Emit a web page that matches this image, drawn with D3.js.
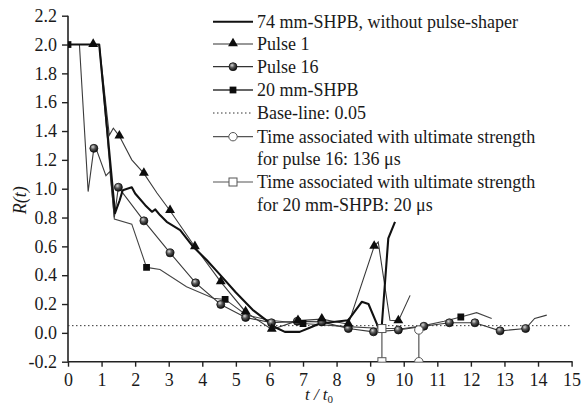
<!DOCTYPE html>
<html>
<head>
<meta charset="utf-8">
<script src="https://cdn.jsdelivr.net/npm/d3@7"></script>
<style>
  html, body { margin: 0; padding: 0; background: #ffffff; }
  svg { display: block; }
  svg text { font-family: "Liberation Serif", Tinos, "Times New Roman", Times, "Nimbus Roman", "DejaVu Serif", serif !important; fill: #1a1a1a; }
</style>
</head>
<body>
<svg id="chart" width="581" height="406"></svg>
<script>
// ---- data -------------------------------------------------------------
// R(t) against normalised time t/t0 for each test series, as [t/t0, R(t)]
const shpb74 = [
  [0, 2.0], [0.93, 2.0], [1.4, 0.83], [1.54, 0.92], [1.63, 0.99], [1.9, 1.01],
  [2.0, 0.967], [2.3, 0.886], [2.5, 0.84], [2.6, 0.856], [2.74, 0.817], [2.94, 0.77],
  [3.34, 0.713], [3.73, 0.597], [4.13, 0.505], [4.6, 0.385], [5.0, 0.28], [5.5, 0.16],
  [5.92, 0.085], [6.2, 0.035], [6.46, 0.007], [6.9, 0.007], [7.2, 0.035], [7.5, 0.065],
  [8.35, 0.088], [8.75, 0.215], [8.95, 0.2], [9.24, 0.04], [9.34, 0.03], [9.54, 0.655],
  [9.74, 0.77]
];
const pulse1 = [
  [0, 2.0], [0.75, 2.0], [0.93, 2.0], [1.23, 1.37], [1.35, 1.42], [1.53, 1.365],
  [1.9, 1.2], [2.26, 1.106], [2.65, 0.97], [3.04, 0.847], [3.78, 0.597], [4.55, 0.354],
  [5.29, 0.145], [6.07, 0.024], [6.85, 0.085], [7.56, 0.095], [8.35, 0.06], [9.12, 0.6],
  [9.24, 0.63], [9.59, 0.087], [9.84, 0.083], [10.19, 0.26]
];
const pulse1Marks = [0.75, 1.53, 2.26, 3.04, 3.78, 4.55, 5.29, 6.07, 6.85, 7.56, 8.35, 9.12, 9.84];

const pulse16 = [
  [0, 2.0], [0.34, 2.0], [0.6, 0.98], [0.77, 1.28], [0.85, 1.27], [1.13, 1.09],
  [1.25, 1.12], [1.38, 0.8], [1.5, 1.01], [2.26, 0.777], [3.04, 0.555], [3.8, 0.347],
  [4.55, 0.197], [5.29, 0.107], [6.06, 0.07], [6.83, 0.08], [7.56, 0.076], [8.35, 0.03],
  [9.1, 0.007], [9.84, 0.02], [10.6, 0.046], [11.36, 0.07], [12.12, 0.07], [12.87, 0.014],
  [13.63, 0.03], [13.9, 0.1], [14.26, 0.123]
];
const pulse16Marks = [0.77, 1.5, 2.26, 3.04, 3.8, 4.55, 5.29, 6.06, 6.83, 7.56, 8.35,
  9.1, 9.84, 10.6, 11.36, 12.12, 12.87, 13.63];

const shpb20 = [
  [0, 2.0], [0.93, 2.0], [1.38, 0.79], [1.9, 0.754], [2.34, 0.454], [2.74, 0.44],
  [3.53, 0.32], [4.33, 0.24], [4.68, 0.232], [5.32, 0.123], [6.0, 0.088], [7.0, 0.065],
  [8.2, 0.045], [9.35, 0.03], [10.0, 0.03], [10.6, 0.05], [11.2, 0.08], [11.7, 0.11],
  [12.17, 0.14], [12.62, 0.1]
];
const shpb20Marks = [0, 2.34, 4.68, 7.0, 9.35, 11.7];

const baseLine = 0.05;
// times of ultimate strength: [t/t0, R at the curve]
const ultimatePulse16 = [10.45, 0.02];
const ultimate20 = [9.35, 0.03];

const xTicks = [0, 1, 2, 3, 4, 5, 6, 7, 8, 9, 10, 11, 12, 13, 14, 15];
const yTicks = [-0.2, 0.0, 0.2, 0.4, 0.6, 0.8, 1.0, 1.2, 1.4, 1.6, 1.8, 2.0, 2.2];

const legendLabels = [
  ["74 mm-SHPB, without pulse-shaper"],
  ["Pulse 1"],
  ["Pulse 16"],
  ["20 mm-SHPB"],
  ["Base-line: 0.05"],
  ["Time associated with ultimate strength", "for pulse 16: 136 \u03bcs"],
  ["Time associated with ultimate strength", "for 20 mm-SHPB: 20 \u03bcs"]
];

// ---- layout -----------------------------------------------------------
const svg = d3.select("#chart");
const FONT = 18;
const SERIF = "'Liberation Serif', Tinos, 'Times New Roman', Times, 'Nimbus Roman', 'DejaVu Serif', serif";
const x = d3.scaleLinear().domain([0, 15]).range([68, 571.6]);
const y = d3.scaleLinear().domain([-0.2, 2.2]).range([361.7, 15.7]);

const defs = svg.append("defs");
defs.append("clipPath").attr("id", "plot-clip")
  .append("rect").attr("x", 68).attr("y", 0).attr("width", 513).attr("height", 361.7);
const grad = defs.append("radialGradient").attr("id", "ball")
  .attr("cx", "38%").attr("cy", "32%").attr("r", "70%");
grad.append("stop").attr("offset", "0%").attr("stop-color", "#d8d8d8");
grad.append("stop").attr("offset", "45%").attr("stop-color", "#555");
grad.append("stop").attr("offset", "100%").attr("stop-color", "#0a0a0a");

// ---- axes -------------------------------------------------------------
const fmt = d => d3.format(".1f")(d).replace("\u2212", "-");
const yAxis = svg.append("g").attr("transform", `translate(${x(0)},0)`)
  .call(d3.axisLeft(y).tickValues(yTicks).tickFormat(fmt).tickSize(6).tickPadding(5));
const xAxis = svg.append("g").attr("transform", `translate(0,${y(-0.2)})`)
  .call(d3.axisBottom(x).tickValues(xTicks).tickFormat(d3.format("d")).tickSize(5).tickPadding(7));
[xAxis, yAxis].forEach(g => {
  g.attr("font-family", SERIF).attr("font-size", FONT);
  g.select(".domain").attr("stroke", "#222").attr("stroke-width", 1.6);
  g.selectAll(".tick line").attr("stroke", "#222").attr("stroke-width", 1.4);
  g.selectAll(".tick text").attr("fill", "#1a1a1a");
});
xAxis.select(".domain").attr("d", `M${x(0)},0H${x(15) + 1}`);
yAxis.select(".domain").attr("d", `M0,${y(2.2)}V${y(-0.2)}`);

// axis titles
svg.append("text")
  .attr("transform", `translate(26,${y(0.92)}) rotate(-90)`)
  .attr("text-anchor", "middle").attr("font-size", FONT).attr("font-style", "italic")
  .text("R(t)");
const xt = svg.append("text").attr("x", 319).attr("y", 400)
  .attr("text-anchor", "middle").attr("font-size", 17).attr("font-style", "italic");
xt.append("tspan").text("t / t");
xt.append("tspan").attr("dy", 3).attr("font-size", 11).attr("font-style", "normal").text("0");

// ---- plot -------------------------------------------------------------
const plot = svg.append("g").attr("clip-path", "url(#plot-clip)");
const line = d3.line().x(d => x(d[0])).y(d => y(d[1]));

plot.append("line")
  .attr("x1", x(0)).attr("x2", x(15)).attr("y1", y(baseLine)).attr("y2", y(baseLine))
  .attr("stroke", "#333").attr("stroke-width", 1).attr("stroke-dasharray", "1.5,2.5");

plot.append("path").datum(shpb20).attr("d", line)
  .attr("fill", "none").attr("stroke", "#444").attr("stroke-width", 1.1);
plot.append("path").datum(pulse16).attr("d", line)
  .attr("fill", "none").attr("stroke", "#3a3a3a").attr("stroke-width", 1.1);
plot.append("path").datum(pulse1).attr("d", line)
  .attr("fill", "none").attr("stroke", "#3a3a3a").attr("stroke-width", 1.1);
plot.append("path").datum(shpb74).attr("d", line)
  .attr("fill", "none").attr("stroke", "#111").attr("stroke-width", 2.1)
  .attr("stroke-linejoin", "round");

const pick = (series, ts) => series.filter(d => ts.includes(d[0]));
const tri = d3.symbol().type(d3.symbolTriangle).size(42)();
const sq = d3.symbol().type(d3.symbolSquare).size(46)();

function drawMarker(g, kind, cx, cy) {
  if (kind === "tri") {
    g.append("path").attr("d", tri).attr("transform", `translate(${cx},${cy - 0.5})`)
      .attr("fill", "#0d0d0d");
  } else if (kind === "circ") {
    g.append("circle").attr("cx", cx).attr("cy", cy).attr("r", 4)
      .attr("fill", "url(#ball)").attr("stroke", "#111").attr("stroke-width", 0.8);
  } else if (kind === "sq") {
    g.append("path").attr("d", sq).attr("transform", `translate(${cx},${cy})`)
      .attr("fill", "#0d0d0d");
  } else if (kind === "ocirc") {
    g.append("circle").attr("cx", cx).attr("cy", cy).attr("r", 4.2)
      .attr("fill", "#fff").attr("stroke", "#555").attr("stroke-width", 1);
  } else if (kind === "osq") {
    g.append("rect").attr("x", cx - 4).attr("y", cy - 4).attr("width", 8).attr("height", 8)
      .attr("fill", "#fff").attr("stroke", "#555").attr("stroke-width", 1);
  }
}

pick(shpb20, shpb20Marks).forEach(d => drawMarker(plot, "sq", x(d[0]), y(d[1])));
pick(pulse16, pulse16Marks).forEach(d => drawMarker(plot, "circ", x(d[0]), y(d[1])));
pick(pulse1, pulse1Marks).forEach(d => drawMarker(plot, "tri", x(d[0]), y(d[1])));

// ultimate-strength drop lines
[[ultimate20, "osq"], [ultimatePulse16, "ocirc"]].forEach(([u, kind]) => {
  plot.append("line").attr("x1", x(u[0])).attr("x2", x(u[0]))
    .attr("y1", y(u[1])).attr("y2", y(-0.2))
    .attr("stroke", "#555").attr("stroke-width", 1.2);
  drawMarker(plot, kind, x(u[0]), y(u[1]));
  drawMarker(plot, kind, x(u[0]), y(-0.2));
});

// ---- legend -----------------------------------------------------------
const legendRows = [21.7, 44, 66.7, 90, 113, 136.7, 182];
const legendStyles = [
  { stroke: "#111", width: 2.1, dash: null, mark: null },
  { stroke: "#333", width: 1.2, dash: null, mark: "tri" },
  { stroke: "#333", width: 1.2, dash: null, mark: "circ" },
  { stroke: "#333", width: 1.4, dash: null, mark: "sq" },
  { stroke: "#333", width: 1, dash: "1.5,2.5", mark: null },
  { stroke: "#555", width: 1.2, dash: null, mark: "ocirc" },
  { stroke: "#555", width: 1.2, dash: null, mark: "osq" }
];
const legend = svg.append("g");
legendLabels.forEach((lines, i) => {
  const cy = legendRows[i], st = legendStyles[i];
  legend.append("line").attr("x1", 213).attr("x2", 253).attr("y1", cy).attr("y2", cy)
    .attr("stroke", st.stroke).attr("stroke-width", st.width)
    .attr("stroke-dasharray", st.dash);
  if (st.mark) drawMarker(legend, st.mark, 233, cy);
  lines.forEach((t, j) => {
    legend.append("text").attr("x", 257).attr("y", cy + 6 + j * 22.6)
      .attr("font-size", FONT).text(t);
  });
});
</script>
</body>
</html>
